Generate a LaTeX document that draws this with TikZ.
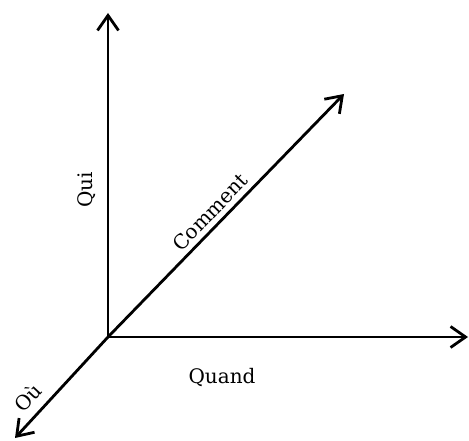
\documentclass[tikz,border=0pt]{standalone}
\usepackage{fontspec}
\setmainfont{DejaVu Serif}
\usetikzlibrary{arrows.meta}
\begin{document}
\begin{tikzpicture}[x=1pt,y=-1pt,
  axis/.style={line width=2.8pt,-{Straight Barb[length=15pt,width=21pt,line width=2.8pt]}},
  lab/.style={font=\fontsize{20}{24}\selectfont,inner sep=0pt}]
\useasboundingbox (0,0) rectangle (469,441);
\coordinate (O) at (108,337);
\coordinate (up) at (108,13);
\coordinate (right) at (468,337);
\coordinate (diag) at (344,94);
\coordinate (dl) at (15,438);
\draw[axis] (O) -- (up);
\draw[axis] (O) -- (right);
\draw[axis] (O) -- (diag);
\draw[axis] (O) -- (dl);
\node[lab,rotate=90] (qui) at (87,190) {Qui};
\node[lab,rotate=45.8] (comment) at (210,212) {Comment};
\node[lab] (quand) at (222,378) {Quand};
\node[lab,rotate=47] (ou) at (28,397) {Où};
\end{tikzpicture}
\end{document}
